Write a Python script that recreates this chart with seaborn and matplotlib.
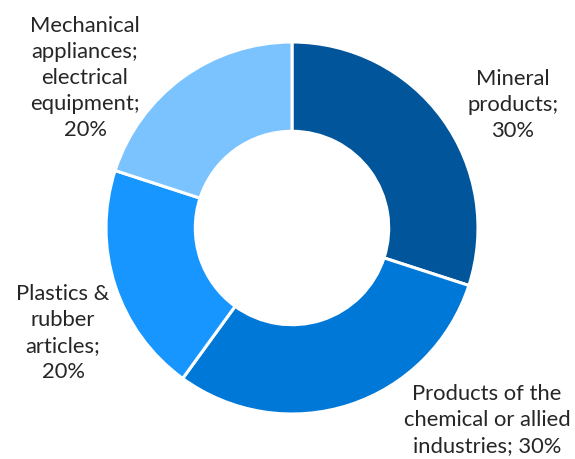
import matplotlib
matplotlib.use("Agg")
import matplotlib.pyplot as plt
import seaborn as sns

# Trade composition by product group (share of total, %)
categories = [
    "Mineral\nproducts;",
    "Products of the\nchemical or allied\nindustries;",
    "Plastics &\nrubber\narticles;",
    "Mechanical\nappliances;\nelectrical\nequipment;",
]
shares = [30, 30, 20, 20]
colors = ["#00559B", "#0078D7", "#1796FF", "#7AC3FF"]

sns.set_theme(style="white")
plt.rcParams["font.family"] = ["Lato", "DejaVu Sans"]

W, H = 575, 460
fig = plt.figure(figsize=(W / 100, H / 100), dpi=100)
ax = fig.add_axes([0, 0, 1, 1])

cx, cy, r = 292, H - 229, 186
ax.pie(
    shares,
    colors=colors,
    startangle=90,
    counterclock=False,
    center=(cx, cy),
    radius=r,
    wedgeprops=dict(width=r * 0.48, edgecolor="white", linewidth=2.2),
    frame=True,
)
ax.set_xlim(0, W)
ax.set_ylim(0, H)
ax.set_aspect("equal")
ax.axis("off")

# Label placement (pixel-style coordinates, y measured from top)
label_pos = [(513, 105), (487, 420), (63, 333), (85, 78)]
for cat, val, (x, y) in zip(categories, shares, label_pos):
    text = f"{cat} {val}%" if cat.startswith("Products") else f"{cat}\n{val}%"
    ax.text(x, H - y, text, ha="center", va="center", fontsize=15.8,
            color="#262626", linespacing=1.38)

fig.savefig("out.png", dpi=100)
